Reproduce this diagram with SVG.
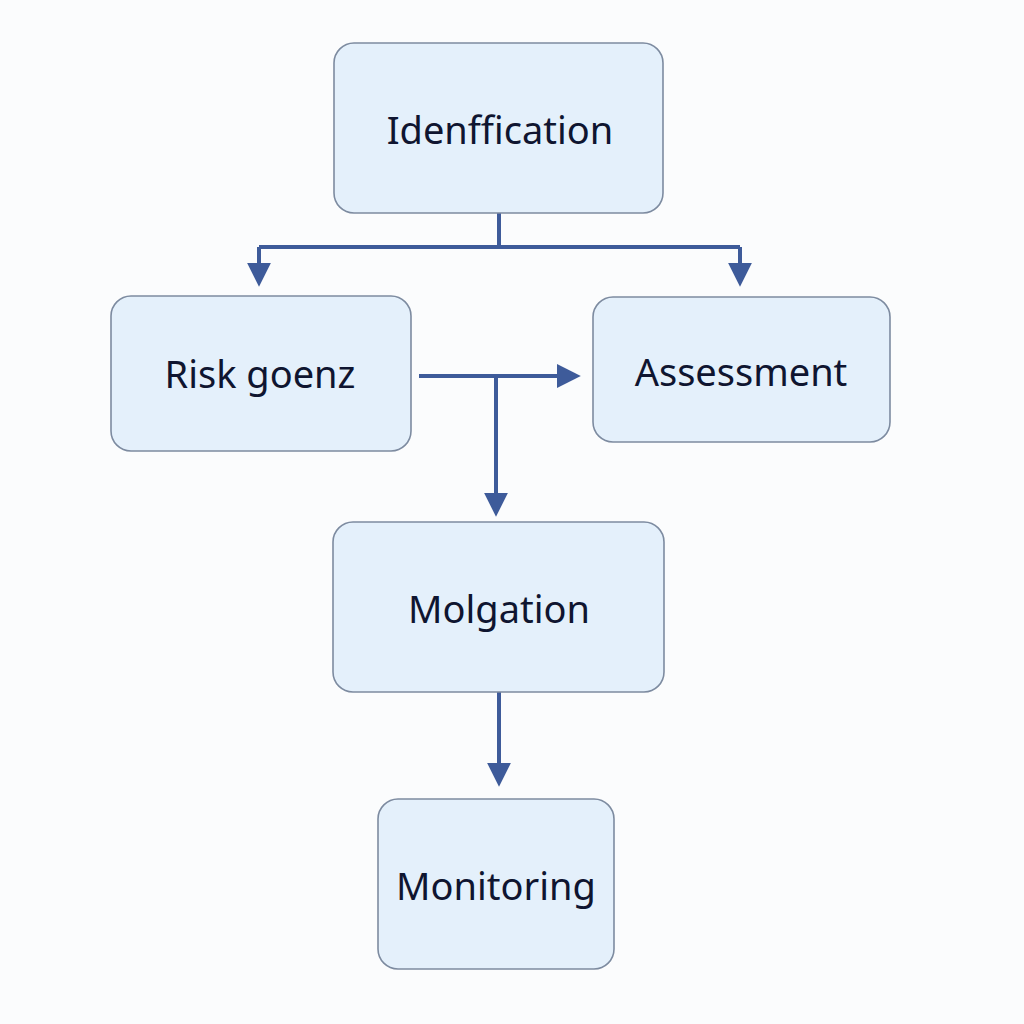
<svg xmlns="http://www.w3.org/2000/svg" width="1024" height="1024" viewBox="0 0 1024 1024">
<defs>
<style>
.box{fill:#e4f0fb;stroke:#7d8ba0;stroke-width:1.6}
.lbl{font-family:"Noto Sans","Open Sans","Liberation Sans",sans-serif;font-size:38px;fill:#0f1530;text-anchor:middle}
.con{fill:none;stroke:#3e5b9a;stroke-width:4}
</style>
<marker id="ah2" viewBox="0 0 10 10" refX="8" refY="5" markerWidth="6" markerHeight="6" orient="auto">
<path d="M0,0 L10,5 L0,10 Z" fill="#3e5b9a"/>
</marker>
</defs>
<rect width="1024" height="1024" fill="#fbfcfd"/>
<g id="connectors">
<path class="con" d="M499,213 V247 M259,247 H740"/>
<path class="con" d="M259,247 V282" marker-end="url(#ah2)"/>
<path class="con" d="M740,247 V282" marker-end="url(#ah2)"/>
<path class="con" d="M419,376 H576" marker-end="url(#ah2)"/>
<path class="con" d="M496,376 V512" marker-end="url(#ah2)"/>
<path class="con" d="M499,692 V782" marker-end="url(#ah2)"/>
</g>
<g id="identification">
<rect class="box" x="334" y="43" width="329" height="170" rx="20"/>
<text class="lbl" x="500" y="144">Idenffication</text>
</g>
<g id="risk-goenz">
<rect class="box" x="111" y="296" width="300" height="155" rx="20"/>
<text class="lbl" x="260" y="388">Risk goenz</text>
</g>
<g id="assessment">
<rect class="box" x="593" y="297" width="297" height="145" rx="20"/>
<text class="lbl" x="741" y="386">Assessment</text>
</g>
<g id="molgation">
<rect class="box" x="333" y="522" width="331" height="170" rx="20"/>
<text class="lbl" x="499" y="623">Molgation</text>
</g>
<g id="monitoring">
<rect class="box" x="378" y="799" width="236" height="170" rx="20"/>
<text class="lbl" x="496" y="900">Monitoring</text>
</g>
</svg>
